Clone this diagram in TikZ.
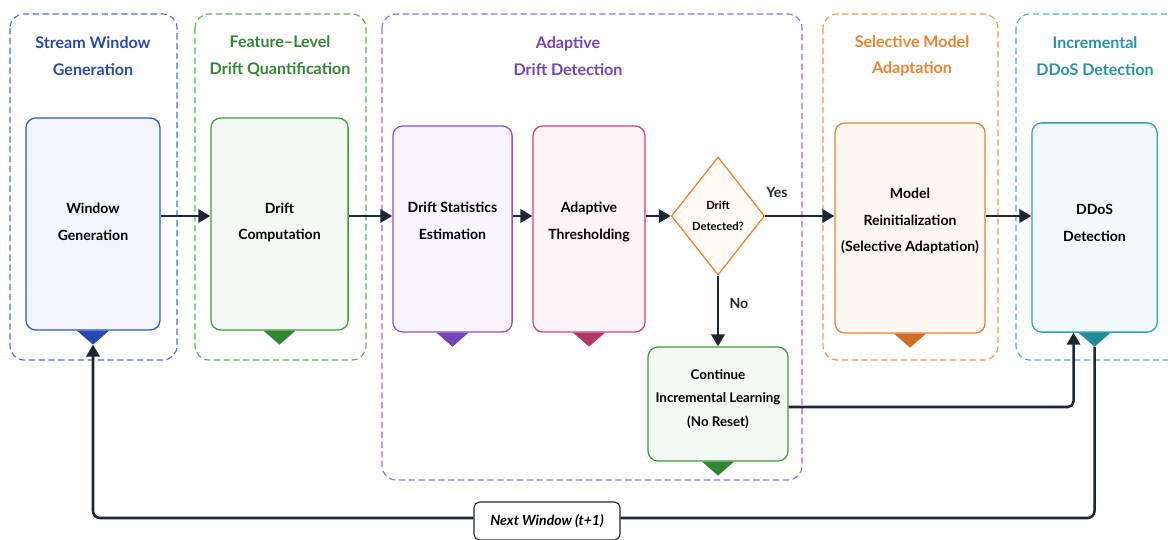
\documentclass[tikz,border=0pt]{standalone}
\usepackage{fontspec}
\setmainfont{Lato}
\usetikzlibrary{shapes.geometric,arrows.meta,calc}

\definecolor{winblue}{HTML}{2F55D4}
\definecolor{featgreen}{HTML}{3A9F3A}
\definecolor{adaptpurple}{HTML}{8A4FD8}
\definecolor{threshpink}{HTML}{D0417A}
\definecolor{modelorange}{HTML}{F0822E}
\definecolor{ddosteal}{HTML}{2AA3B3}
\definecolor{flowink}{HTML}{1E2633}

\tikzset{stagebox/.style = {draw=#1, fill=#1!6, line width=0.9pt, rounded corners=7pt},
         stagetext/.style = {align=center, text=black,
                             font=\bfseries\fontsize{10}{19}\selectfont},
         stagegroup/.style = {draw=#1!85, dash pattern=on 4.5pt off 2.5pt,
                              line width=0.8pt, rounded corners=10pt},
         grouptitle/.style = {text=#1, align=center,
                              font=\bfseries\fontsize{11.4}{19}\selectfont},
         flow/.style = {draw=flowink, line width=1.8pt,
                        -{Triangle[length=8.5pt,width=9.5pt]}},
         branch/.style = {text=flowink, font=\bfseries\fontsize{10}{12}\selectfont}
        }

\begin{document}
\begin{tikzpicture}[x=0.025cm, y=-0.025cm]
  \useasboundingbox (0,0) rectangle (1168,539);

  % stage groups
  \draw[stagegroup=winblue]      (10,14)   rectangle (177,360);
  \draw[stagegroup=featgreen]    (195,14)  rectangle (366,360);
  \draw[stagegroup=adaptpurple]  (382,14)  rectangle (802,480);
  \draw[stagegroup=modelorange]  (823,14)  rectangle (998,360);
  \draw[stagegroup=ddosteal]     (1016,14) rectangle (1190,360);

  \node[grouptitle=winblue!85!black]     at (93,56)   {Stream Window\\Generation};
  \node[grouptitle=featgreen!85!black]   at (280,56)  {Feature--Level\\Drift Quantification};
  \node[grouptitle=adaptpurple!85!black] at (568,56)  {Adaptive\\Drift Detection};
  \node[grouptitle=modelorange]          at (912,56)  {Selective Model\\Adaptation};
  \node[grouptitle=ddosteal!90!black]    at (1095,56) {Incremental\\DDoS Detection};

  % stage boxes, text sits a little above the middle
  \node[stagebox=winblue, minimum width=3.35cm, minimum height=5.3cm,
        label={[stagetext, yshift=1.5pt]center:Window\\Generation}]
       (wingen) at (93,224) {};
  \node[stagebox=featgreen, minimum width=3.43cm, minimum height=5.3cm,
        label={[stagetext, yshift=1pt]center:Drift\\Computation}]
       (driftcomp) at (279.5,224) {};
  \node[stagebox=adaptpurple, minimum width=2.98cm, minimum height=5.15cm,
        label={[stagetext, yshift=5.7pt]center:Drift Statistics\\Estimation}]
       (driftstats) at (452.5,229) {};
  \node[stagebox=threshpink, minimum width=2.8cm, minimum height=5.15cm,
        label={[stagetext, yshift=5pt]center:Adaptive\\Thresholding}]
       (adaptthresh) at (589,229) {};
  \node[draw=modelorange, fill=modelorange!5, line width=0.9pt, diamond,
        inner sep=0pt, minimum width=2.33cm, minimum height=2.95cm, align=center,
        font=\bfseries\fontsize{8}{15}\selectfont]
       (detected) at (718,216) {Drift\\Detected?};
  \node[stagebox=modelorange, minimum width=3.75cm, minimum height=5.25cm,
        label={[stagetext, yshift=5pt]center:Model\\Reinitialization\\(Selective Adaptation)}]
       (modelreinit) at (910,228) {};
  \node[stagebox=ddosteal, minimum width=3.13cm, minimum height=5.23cm,
        label={[stagetext, yshift=3.5pt]center:DDoS\\Detection}]
       (ddosdet) at (1094.5,227.5) {};
  \node[stagebox=featgreen, minimum width=3.5cm, minimum height=2.85cm,
        label={[stagetext, yshift=3.5pt, font=\bfseries\fontsize{9.5}{17}\selectfont]
               center:Continue\\Incremental Learning\\(No Reset)}]
       (contlearn) at (718,404) {};

  % little tabs under the boxes
  \foreach \n/\c in {wingen/winblue, driftcomp/featgreen, driftstats/adaptpurple,
                     adaptthresh/threshpink, modelreinit/modelorange,
                     ddosdet/ddosteal, contlearn/featgreen}
    \fill[\c!85!black] ($(\n.south)+(-16,0)$) -- ($(\n.south)+(16,0)$)
                       -- ($(\n.south)+(0,14)$) -- cycle;

  \coordinate (wingentip) at ($(wingen.south)+(0,14)$);
  \coordinate (ddostip)   at ($(ddosdet.south)+(0,14)$);

  % main flow
  \draw[flow] (wingen.east |- detected)      -- (driftcomp.west |- detected);
  \draw[flow] (driftcomp.east |- detected)   -- (driftstats.west |- detected);
  \draw[flow] (driftstats.east |- detected)  -- (adaptthresh.west |- detected);
  \draw[flow] (adaptthresh.east |- detected) -- (detected.west);
  \draw[flow] (detected.east) -- node[branch, above=9pt, pos=0.17] {Yes}
              (modelreinit.west |- detected);
  \draw[flow] (modelreinit.east |- detected) -- (ddosdet.west |- detected);
  \draw[flow] (detected.south) -- node[branch, right=4pt, pos=0.4] {No} (contlearn.north);
  \draw[flow, rounded corners=4pt] (contlearn.east |- 0,407)
              -| ($(ddosdet.south)+(-21,0)$);

  % loop back to the next window
  \node[draw=flowink, fill=white, line width=0.8pt, rounded corners=4pt,
        minimum width=3.65cm, minimum height=0.95cm,
        font=\bfseries\itshape\fontsize{10}{12}\selectfont]
       (nextwin) at (547,521) {Next Window (t+1)};
  \draw[draw=flowink, line width=1.8pt, rounded corners=5pt]
       (ddostip) |- (nextwin.east |- 0,518);
  \draw[flow, rounded corners=5pt] (nextwin.west |- 0,518) -| (wingentip);
\end{tikzpicture}
\end{document}
